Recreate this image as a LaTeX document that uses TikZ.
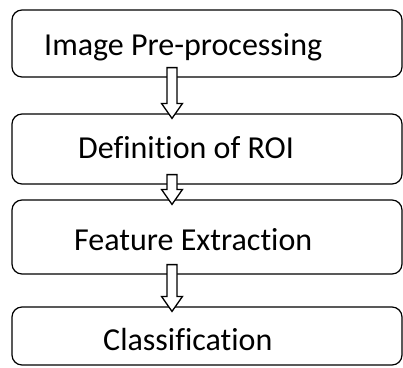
\documentclass[tikz,border=0pt]{standalone}
\usepackage{fontspec}
\setmainfont[Ligatures=NoCommon]{Carlito}
\usepackage{tikz}
\usetikzlibrary{calc}
\tikzstyle{stage}=[draw,rounded corners=10pt,line width=1.2pt,minimum width=390pt,inner sep=0pt]
\tikzstyle{stagetext}=[font=\fontsize{32}{38}\selectfont,inner sep=0pt,anchor=base west]
\tikzstyle{hollow}=[draw,fill=white,line width=1.3pt,line join=miter]

\begin{document}
\begin{tikzpicture}[x=1pt,y=-1pt]
   \useasboundingbox (0,0) rectangle (403,367);
   \foreach \name/\y/\h in {b1/43.5/67, b2/149/70, b3/237/74, b4/336/58}
        \node[stage,minimum height=\h pt] (\name) at (207,\y) {};
   \foreach \name/\x/\y/\txt in {t1/44/55/Image Pre-processing, t2/78/158/Definition of ROI,
                                t3/74/250/Feature Extraction, t4/103/350/Classification}
        \node[stagetext] (\name) at (\x,\y) {\txt};
   % block arrows between the stages
   \foreach \a/\b in {b1/b2, b2/b3, b3/b4}
        \path[hollow] let \p1=(\a.south), \p2=(\b.north) in
            (167pt,\y1+10pt) -- (177pt,\y1+10pt) -- (177pt,\y2+10pt) -- (182.5pt,\y2+10pt)
            -- (172pt,\y2-5pt) -- (161.5pt,\y2+10pt) -- (167pt,\y2+10pt) -- cycle;
\end{tikzpicture}
\end{document}
